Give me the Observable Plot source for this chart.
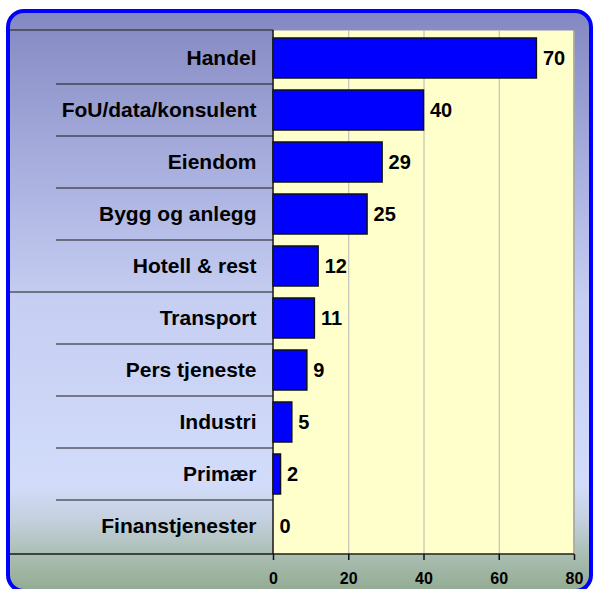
<!DOCTYPE html>
<html>
<head>
<meta charset="utf-8">
<script src="https://cdn.jsdelivr.net/npm/d3@7"></script>
<script src="https://cdn.jsdelivr.net/npm/@observablehq/plot@0.6"></script>
<style>
  html, body { margin: 0; padding: 0; background: #ffffff; }
  #wrap { position: relative; width: 597px; height: 589px; overflow: hidden; }
  #panel {
    position: absolute; left: 6px; top: 9px; width: 587px; height: 584px;
    box-sizing: border-box; border: 4px solid #0000ff; border-radius: 18px;
    background: linear-gradient(to bottom, #8488c2 0%, #a6acdc 25%, #c6cef2 50%, #d2dcfa 82%, #c4d0de 88%, #aabeb2 94%, #94ac94 100%);
  }
  #chart { position: absolute; left: 0; top: 0; }
</style>
</head>
<body>
<div id="wrap">
  <div id="panel"></div>
  <div id="chart"></div>
</div>
<script>
const categories = ["Handel", "FoU/data/konsulent", "Eiendom", "Bygg og anlegg", "Hotell & rest",
  "Transport", "Pers tjeneste", "Industri", "Primær", "Finanstjenester"];
const values = [70, 40, 29, 25, 12, 11, 9, 5, 2, 0];
const xTicks = [0, 20, 40, 60, 80];
const gridTicks = [20, 40, 60];

const data = categories.map((c, i) => ({category: c, value: values[i]}));

const W = 597, H = 589;
const mL = 273, mR = 23, mT = 30, mB = 35;

// decorative panel lines (band separators on the left, axis lines)
function panelLines(index, scales, values, dims) {
  const y = scales.y;
  const step = y.step(), bw = y.bandwidth();
  const g = d3.create("svg:g");
  const x0 = dims.marginLeft;
  const top = dims.marginTop, bottom = dims.height - dims.marginBottom;
  const right = dims.width - dims.marginRight;
  categories.forEach((c, i) => {
    if (i === 0) return;
    const yy = y(c) - (step - bw) / 2;
    g.append("line")
      .attr("x1", i === 5 ? 10 : 56).attr("x2", x0)
      .attr("y1", yy).attr("y2", yy)
      .attr("stroke", "#1a1a1a").attr("stroke-width", 1.2);
  });
  g.append("line").attr("x1", 10).attr("x2", x0).attr("y1", top).attr("y2", top)
    .attr("stroke", "#1a1a1a").attr("stroke-width", 1.2);
  g.append("line").attr("x1", right).attr("x2", right).attr("y1", top).attr("y2", bottom)
    .attr("stroke", "#9a9a9a").attr("stroke-width", 1.5);
  g.append("line").attr("x1", 10).attr("x2", right).attr("y1", bottom).attr("y2", bottom)
    .attr("stroke", "#1a1a1a").attr("stroke-width", 1.5);
  g.append("line").attr("x1", x0).attr("x2", x0).attr("y1", top).attr("y2", bottom)
    .attr("stroke", "#1a1a1a").attr("stroke-width", 1.5);
  return g.node();
}

const chart = Plot.plot({
  width: W,
  height: H,
  marginLeft: mL,
  marginRight: mR,
  marginTop: mT,
  marginBottom: mB,
  style: {background: "transparent", fontFamily: "'Liberation Sans', Arial, sans-serif", color: "#000"},
  x: {domain: [0, 80], axis: null},
  y: {domain: categories, paddingInner: 0.24, paddingOuter: 0.12, axis: null},
  marks: [
    Plot.frame({fill: "#ffffcc", stroke: null}),
    Plot.gridX(gridTicks, {stroke: "#b4b4b4", strokeOpacity: 1, strokeWidth: 1}),
    Plot.barX(data, {x: "value", y: "category", fill: "#0000ff", stroke: "#111", strokeWidth: 1.5}),
    Plot.text(data, {x: "value", y: "category", text: d => String(d.value), textAnchor: "start",
      dx: 6, fontSize: 20, fontWeight: "bold", fill: "#000"}),
    panelLines,
    Plot.axisY({tickSize: 0, tickPadding: 17, fontSize: 21, fontWeight: "bold", label: null, fill: "#000"}),
    Plot.axisX({ticks: xTicks, tickSize: 6, tickPadding: 12, fontSize: 16, fontWeight: "bold",
      label: null, stroke: "#111", strokeWidth: 1.5, fill: "#000"})
  ]
});
document.getElementById("chart").appendChild(chart);
</script>
</body>
</html>
